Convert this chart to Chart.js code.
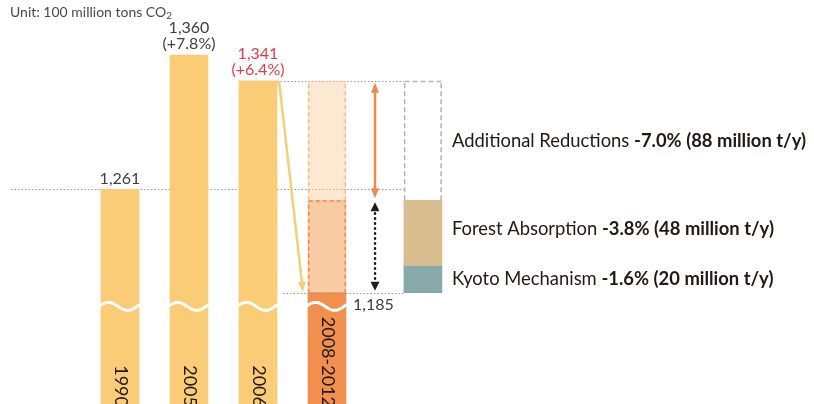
<!DOCTYPE html>
<html>
<head>
<meta charset="utf-8">
<script src="https://cdn.jsdelivr.net/npm/chart.js@4/dist/chart.umd.min.js"></script>
<style>
  html, body { margin: 0; padding: 0; background: #fff; overflow: hidden; }
  #wrap { width: 814px; height: 404px; position: relative; }
</style>
</head>
<body>
<div id="wrap"><canvas id="c" width="814" height="404"></canvas></div>
<script>
// ---- data ----
const years = ['1990', '2005', '2006', '2008-2012'];
const emissions = [1261, 1360, 1341, 1185];
const changeVsBase = ['', '+7.8%', '+6.4%', ''];
const measures = ['Kyoto Mechanism', 'Forest Absorption', 'Additional Reductions'];
const measureShare = ['-1.6%', '-3.8%', '-7.0%'];
const measureAmount = [20, 48, 88];          // million t/y
const unitLabel = 'Unit: 100 million tons CO';
const unitSub = '2';

// ---- layout ----
const FONT = 'Lato, "Open Sans", sans-serif';
const X_MIN = -1.739, X_MAX = 10.058;
const Y_MIN = 1103, Y_MAX = 1400.5;
const STACK_SLOT = 4.39;     // column of the stacked measures bar
const ARROW_SLOT = 3.696;    // column of the gap arrows
const BREAK_AT = 1176;       // value where the axis break wave sits
const LABEL_NUDGE = [0, -4, 0];

const YELLOW = '#f9cc75', ORANGE = '#f08f4e', RED = '#e8394a', INK = '#404040';

const baseYear = emissions[0];
const latest = emissions[2];
const target = emissions[3];
// segment bounds stacked from the target upward
const bounds = [target];
measureAmount.forEach(a => bounds.push(bounds[bounds.length - 1] + a));

const fmt = v => v.toLocaleString('en-US');

function dottedLine(ctx, x1, x2, py) {
  ctx.save();
  ctx.strokeStyle = '#9a9a9a';
  ctx.lineWidth = 1;
  ctx.setLineDash([1.5, 2]);
  ctx.beginPath();
  ctx.moveTo(x1, Math.round(py) + 0.5);
  ctx.lineTo(x2, Math.round(py) + 0.5);
  ctx.stroke();
  ctx.restore();
}

function dashedSides(ctx, el, sides, color, dash) {
  const l = el.x - el.width / 2 + 0.75, r = el.x + el.width / 2 - 0.75;
  const t = Math.min(el.y, el.base) + 0.75, b = Math.max(el.y, el.base);
  ctx.save();
  ctx.strokeStyle = color;
  ctx.lineWidth = 1.5;
  ctx.setLineDash(dash);
  ctx.beginPath();
  if (sides.includes('left')) { ctx.moveTo(l, b); ctx.lineTo(l, t); }
  if (sides.includes('right')) { ctx.moveTo(r, b); ctx.lineTo(r, t); }
  if (sides.includes('top')) { ctx.moveTo(l, t); ctx.lineTo(r, t); }
  ctx.stroke();
  ctx.restore();
}

function arrowHead(ctx, tx, ty, dx, dy, len, half, color) {
  const n = Math.hypot(dx, dy); dx /= n; dy /= n;
  const bx = tx - dx * len, by = ty - dy * len;
  ctx.save();
  ctx.fillStyle = color;
  ctx.beginPath();
  ctx.moveTo(tx, ty);
  ctx.lineTo(bx - dy * half, by + dx * half);
  ctx.lineTo(bx + dy * half, by - dx * half);
  ctx.closePath();
  ctx.fill();
  ctx.restore();
}

const decor = {
  id: 'decor',
  beforeDatasetsDraw(chart) {
    const { ctx, scales: { y } } = chart;
    const emit = chart.getDatasetMeta(0).data;
    const seg = chart.getDatasetMeta(2).data;
    const stackLeft = seg[0].x - seg[0].width / 2;
    dottedLine(ctx, 11, stackLeft, y.getPixelForValue(baseYear));
    dottedLine(ctx, emit[2].x + emit[2].width / 2, stackLeft, y.getPixelForValue(latest));
  },
  afterDatasetsDraw(chart) {
    const { ctx, scales: { x, y } } = chart;
    const emit = chart.getDatasetMeta(0).data;
    const band = chart.getDatasetMeta(1).data;
    const seg = chart.getDatasetMeta(2).data;
    const stackLeft = seg[0].x - seg[0].width / 2;
    const stackRight = seg[0].x + seg[0].width / 2;

    // target line
    dottedLine(ctx, emit[2].x + emit[2].width / 2 + 6, stackLeft, y.getPixelForValue(target));

    // dashed outlines
    dashedSides(ctx, band[1], ['left', 'right'], '#f7bc93', [4, 3]);
    dashedSides(ctx, band[0], ['left', 'right', 'top'], '#f0894e', [4, 3]);
    dashedSides(ctx, seg[2], ['left', 'right', 'top'], '#b3b3b3', [5, 3]);

    // axis-break waves
    const cy = y.getPixelForValue(BREAK_AT) + 1.5;
    ctx.save();
    ctx.strokeStyle = '#ffffff';
    ctx.lineWidth = 3;
    emit.forEach(el => {
      const left = el.x - el.width / 2, w = el.width;
      ctx.beginPath();
      for (let t = -1; t <= w + 1; t += 0.5) {
        const py = cy - 4 * Math.cos(2 * Math.PI * (t / w - 0.2));
        if (t === -1) ctx.moveTo(left + t, py); else ctx.lineTo(left + t, py);
      }
      ctx.stroke();
    });
    ctx.restore();

    // year labels inside the bars
    ctx.save();
    ctx.fillStyle = '#231815';
    ctx.font = '18px ' + FONT;
    ctx.textAlign = 'right';
    ctx.textBaseline = 'middle';
    emit.forEach((el, i) => {
      ctx.save();
      ctx.translate(el.x + 0.5, 407);
      ctx.rotate(Math.PI / 2);
      ctx.fillText(years[i], 0, 0);
      ctx.restore();
    });
    ctx.restore();

    // value labels
    ctx.save();
    ctx.font = '16px ' + FONT;
    ctx.textAlign = 'center';
    ctx.textBaseline = 'alphabetic';
    emit.forEach((el, i) => {
      if (i === 3) return;
      ctx.fillStyle = i === 2 ? RED : INK;
      const base = el.y - 5.5;
      if (changeVsBase[i]) {
        ctx.fillText(fmt(emissions[i]), el.x, base - 16);
        ctx.fillText('(' + changeVsBase[i] + ')', el.x, base);
      } else {
        ctx.fillText(fmt(emissions[i]), el.x, base);
      }
    });
    ctx.fillStyle = INK;
    ctx.textAlign = 'left';
    ctx.fillText(fmt(target), emit[3].x + emit[3].width / 2 + 7, emit[3].y + 17.5);
    ctx.restore();

    // slanted arrow from the latest year to the target
    const sx = emit[2].x + emit[2].width / 2 + 2, sy = y.getPixelForValue(latest);
    const ex = band[0].x - band[0].width / 2 - 5, ey = y.getPixelForValue(target) - 1;
    ctx.save();
    ctx.strokeStyle = YELLOW;
    ctx.lineWidth = 2.5;
    const dl = Math.hypot(ex - sx, ey - sy);
    ctx.beginPath();
    ctx.moveTo(sx, sy);
    ctx.lineTo(ex - (ex - sx) / dl * 8, ey - (ey - sy) / dl * 8);
    ctx.stroke();
    ctx.restore();
    arrowHead(ctx, ex, ey, ex - sx, ey - sy, 10, 4, YELLOW);

    // gap arrows
    const ax = x.getPixelForValue(ARROW_SLOT);
    const oTop = y.getPixelForValue(bounds[3]) + 2, oBot = y.getPixelForValue(bounds[2]) - 2;
    ctx.save();
    ctx.strokeStyle = '#f08a4b';
    ctx.lineWidth = 2.5;
    ctx.beginPath();
    ctx.moveTo(ax, oTop + 8);
    ctx.lineTo(ax, oBot - 8);
    ctx.stroke();
    ctx.restore();
    arrowHead(ctx, ax, oTop, 0, -1, 10, 4, '#f08a4b');
    arrowHead(ctx, ax, oBot, 0, 1, 10, 4, '#f08a4b');

    const kTop = y.getPixelForValue(bounds[2]) + 2, kBot = y.getPixelForValue(bounds[0]) - 2;
    ctx.save();
    ctx.strokeStyle = '#1e1e1e';
    ctx.lineWidth = 2.5;
    ctx.lineCap = 'round';
    ctx.setLineDash([0.5, 4.5]);
    ctx.beginPath();
    ctx.moveTo(ax, kTop + 11);
    ctx.lineTo(ax, kBot - 10);
    ctx.stroke();
    ctx.restore();
    arrowHead(ctx, ax, kTop, 0, -1, 9, 4.5, '#1e1e1e');
    arrowHead(ctx, ax, kBot, 0, 1, 9, 4.5, '#1e1e1e');

    // measure labels
    ctx.save();
    ctx.fillStyle = '#231815';
    ctx.textAlign = 'left';
    ctx.textBaseline = 'alphabetic';
    seg.forEach((el, i) => {
      const mid = (el.y + el.base) / 2 + 6 + LABEL_NUDGE[i];
      const tx = stackRight + 10;
      ctx.font = '18.4px ' + FONT;
      const head = measures[i] + ' ';
      ctx.fillText(head, tx, mid);
      const w = ctx.measureText(head).width;
      ctx.font = 'bold 18.4px ' + FONT;
      ctx.fillText(measureShare[i] + ' (' + measureAmount[i] + ' million t/y)', tx + w, mid);
    });
    ctx.restore();

    // unit caption
    ctx.save();
    ctx.fillStyle = '#4a4a4a';
    ctx.textAlign = 'left';
    ctx.textBaseline = 'alphabetic';
    ctx.font = '14px ' + FONT;
    ctx.fillText(unitLabel, 10, 17);
    const uw = ctx.measureText(unitLabel).width;
    ctx.font = '10px ' + FONT;
    ctx.fillText(unitSub, 10 + uw, 19);
    ctx.restore();
  }
};

const common = { grouped: false, barThickness: 38, maxBarThickness: 38, borderWidth: 0 };

new Chart(document.getElementById('c'), {
  type: 'bar',
  data: {
    datasets: [
      Object.assign({
        label: 'Emissions',
        data: years.map((_, i) => ({ x: i, y: emissions[i] })),
        backgroundColor: years.map((_, i) => (i === 3 ? ORANGE : YELLOW))
      }, common),
      Object.assign({
        label: 'Reduction gap',
        data: [
          { x: 3, y: [bounds[0], bounds[2]] },
          { x: 3, y: [bounds[2], bounds[3]] }
        ],
        backgroundColor: ['#f9cba3', 'rgba(250,200,140,0.4)']
      }, common),
      Object.assign({
        label: 'Measures',
        data: measures.map((_, i) => ({ x: STACK_SLOT, y: [bounds[i], bounds[i + 1]] })),
        backgroundColor: ['#87a9a9', '#d8be8e', 'rgba(255,255,255,0)']
      }, common)
    ]
  },
  options: {
    responsive: false,
    animation: false,
    devicePixelRatio: 1,
    layout: { padding: 0 },
    plugins: { legend: { display: false }, tooltip: { enabled: false } },
    scales: {
      x: { type: 'linear', display: false, offset: false, min: X_MIN, max: X_MAX },
      y: { type: 'linear', display: false, min: Y_MIN, max: Y_MAX }
    }
  },
  plugins: [decor]
});
</script>
</body>
</html>
